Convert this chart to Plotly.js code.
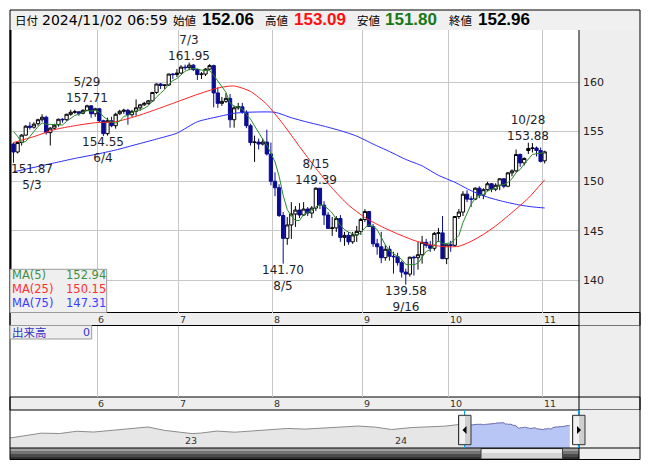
<!DOCTYPE html>
<html><head><meta charset="utf-8">
<script src="https://cdn.plot.ly/plotly-3.0.1.min.js"></script>
<style>html,body{margin:0;padding:0;background:#fff;}#chart{width:653px;height:470px;}</style>
</head><body><div id="chart"></div>
<script>
// ---- data (USD/JPY daily, 2024/05/03 - 2024/11/01) ----
const openP = [153.75,152.95,153.90,154.65,155.55,155.45,155.80,156.20,156.45,154.90,155.35,155.70,156.25,156.20,156.75,156.95,157.00,156.85,157.15,157.60,156.80,
157.30,156.10,154.80,156.10,155.60,156.80,157.05,157.15,156.70,157.05,157.40,157.70,157.85,158.10,158.95,159.80,159.65,159.70,160.80,160.75,
160.90,161.50,161.45,161.70,161.25,160.75,160.80,161.30,161.65,158.90,157.85,158.05,158.35,156.20,157.40,157.50,156.95,155.60,153.90,153.95,153.75,153.95,152.75,
150.00,149.35,146.55,144.25,145.60,146.70,147.10,146.60,147.20,146.80,147.30,149.30,147.60,146.60,145.25,145.30,146.25,144.35,144.55,143.90,144.60,144.95,
146.15,146.95,145.45,143.70,143.40,142.30,143.15,142.45,142.40,141.80,140.85,140.65,142.35,142.30,142.60,143.85,143.55,143.25,144.75,144.80,142.20,
143.60,143.55,146.45,146.90,148.70,148.20,148.20,149.30,148.60,149.15,149.75,149.20,149.60,150.25,149.50,150.85,151.05,152.70,151.85,153.10,153.30,153.35,153.10,
152.06];
const highP = [153.90,154.00,154.75,155.65,155.95,155.95,156.30,156.75,156.60,155.45,155.80,156.30,156.35,156.80,157.20,157.20,157.05,157.25,157.71,157.65,157.40,
157.40,156.20,156.40,156.50,156.90,157.20,157.30,157.30,157.20,158.25,157.80,158.00,158.20,159.00,159.85,159.90,159.75,160.85,160.90,161.30,
161.70,161.75,161.95,161.80,161.30,161.00,161.40,161.80,161.75,159.45,158.50,158.90,158.80,157.60,157.90,157.90,157.15,155.80,154.60,154.30,154.30,155.20,153.90,
150.90,149.70,146.90,146.40,147.90,147.50,147.80,147.90,147.40,147.50,149.39,149.30,148.00,146.90,146.40,146.50,146.60,144.90,144.90,144.90,145.50,146.30,
147.20,147.00,145.70,144.20,144.90,143.60,143.50,142.90,142.80,142.00,141.20,142.40,142.50,143.90,144.50,144.20,144.00,144.90,145.30,146.50,143.60,
144.00,146.50,147.20,149.00,149.10,148.50,149.40,149.50,149.30,149.95,149.80,149.80,150.30,150.30,150.90,151.20,153.20,152.80,152.40,153.88,153.85,153.50,153.40,
153.09];
const lowP = [151.87,152.80,153.60,154.60,155.20,155.30,155.60,156.00,154.70,153.60,155.20,155.50,155.90,156.10,156.60,156.80,156.60,156.75,157.10,156.40,156.50,
155.95,154.55,154.60,155.45,155.30,156.70,156.80,155.70,156.50,156.60,157.10,157.60,157.70,158.00,158.80,159.30,159.30,159.60,160.30,160.50,
160.80,161.20,161.20,161.10,160.20,160.30,160.60,161.20,157.45,157.40,157.60,157.90,155.40,155.40,157.20,156.80,155.35,153.60,151.95,153.20,153.60,152.60,149.60,
148.50,146.40,141.70,143.60,144.20,145.40,146.30,146.50,146.50,146.30,147.00,147.20,145.60,145.20,144.50,144.90,143.90,143.50,143.60,143.70,143.90,144.60,
145.90,145.40,143.40,142.60,141.75,142.00,142.00,140.70,141.50,140.30,139.58,140.40,140.50,141.10,141.70,143.30,142.90,143.00,143.90,142.20,141.65,
142.90,143.40,146.20,146.50,147.90,147.40,148.10,148.30,148.20,149.00,148.90,149.00,149.10,149.30,149.40,150.50,150.90,151.45,151.60,152.75,152.90,152.50,151.90,
151.80];
const closeP = [152.95,153.90,154.65,155.55,155.45,155.75,156.20,156.45,154.90,155.35,155.65,156.25,156.20,156.75,156.95,157.00,156.85,157.15,157.60,156.80,157.30,
156.10,154.80,156.10,155.60,156.75,157.05,157.15,156.70,157.05,157.40,157.70,157.85,158.10,158.95,159.80,159.65,159.70,160.80,160.75,160.90,
161.50,161.45,161.70,161.25,160.75,160.80,161.30,161.65,158.90,157.85,158.05,158.35,156.20,157.40,157.50,156.95,155.60,153.90,153.95,153.75,153.95,152.75,150.00,
149.35,146.55,144.25,145.60,146.70,147.10,146.60,147.20,146.80,147.30,149.30,147.60,146.60,145.25,145.30,146.25,144.35,144.55,143.90,144.60,144.95,146.15,
146.95,145.45,143.70,143.40,142.30,143.15,142.45,142.40,141.80,140.85,140.65,142.35,142.30,142.60,143.85,143.55,143.25,144.75,144.80,142.20,143.60,
143.55,146.45,146.90,148.70,148.20,148.20,149.30,148.60,149.15,149.75,149.20,149.60,150.25,149.50,150.85,151.05,152.70,151.85,152.30,153.30,153.35,153.10,152.00,
152.96];
const priorCloses = [156.30,157.80,155.00,153.00];          // last 4 closes before 5/3 (for MA5)
const ma25Idx = [0,5,10,15,20,25,30,35,40,45,50,54,58,62,66,70,74,78,82,86,90,94,98,102,106,109,112,115,118,122,126,130];
const ma25Val = [153.9,154.5,155.2,155.6,155.9,156.0,156.55,157.25,158.0,158.75,159.4,159.6,159.05,157.75,155.75,153.5,151.3,149.3,147.6,146.35,145.45,144.7,144.05,143.6,143.4,143.45,143.95,144.65,145.5,146.85,148.3,150.15];
const ma75Idx = [0,5,10,15,20,25,30,35,40,45,50,54,57,64,68,72,76,80,84,88,92,96,100,104,108,112,116,120,124,127,130];
const ma75Val = [150.95,151.4,151.85,152.3,152.7,153.15,153.7,154.25,154.85,156.0,156.5,156.85,156.95,156.95,156.4,155.95,155.55,155.1,154.55,153.75,153.0,152.2,151.55,150.6,149.9,149.05,148.4,147.95,147.6,147.42,147.31];
const navDates = ['2022-03-06','2022-03-31','2022-04-29','2022-05-31','2022-06-30','2022-07-29','2022-08-31','2022-09-30','2022-10-21','2022-10-31','2022-11-30','2022-12-30',
'2023-01-16','2023-01-31','2023-02-28','2023-03-31','2023-04-28','2023-05-31','2023-06-30','2023-07-31','2023-08-31','2023-09-29','2023-10-31','2023-11-30','2023-12-28',
'2024-01-31','2024-02-29','2024-03-29','2024-04-30'];
const navVals = [115.0,121.7,129.8,128.7,135.7,133.2,138.9,144.7,147.6,148.7,138.1,131.1,128.5,130.1,136.2,132.8,136.3,139.3,144.3,142.3,145.5,149.4,151.7,148.2,141.0,147.0,150.0,151.3,157.8];
const peakIdx = [18,43,74,126];
const troughIdx = [0,22,66,96];
const headerStamp = '2024/11/02 06:59';
const maNames = ['MA(5)','MA(25)','MA(75)'];
const yTicks = [140,145,150,155,160];
const navYears = ['2023-01-01','2024-01-01'];
const navYearLabels = ['23','24'];

// ---- derived ----
const dates = [];
for (let d = Date.UTC(2024,4,3); d <= Date.UTC(2024,10,1); d += 86400000) {
  const dt = new Date(d); const wd = dt.getUTCDay();
  if (wd !== 0 && wd !== 6) dates.push(dt);
}
const idx = closeP.map((_, i) => i);
const dLabel = i => (dates[i].getUTCMonth()+1) + '/' + dates[i].getUTCDate();
const iso = i => dates[i].toISOString().slice(0,10);
const monthTicks = [], monthLabels = [];
for (let i = 1; i < dates.length; i++) if (dates[i].getUTCMonth() !== dates[i-1].getUTCMonth()) { monthTicks.push(i - 0.5); monthLabels.push(String(dates[i].getUTCMonth()+1)); }
const allC = priorCloses.concat(closeP);
const ma5 = closeP.map((_, i) => { let s = 0; for (let k = 0; k < 5; k++) s += allC[i + 4 - k]; return s / 5; });

// ---- layout helpers ----
const W = 653, H = 470;
const px = x => x / W, py = y => 1 - y / H;
const XL = 10, XR = 579, MT = 30, MB = 312.5;
const rect = (x0, y0, x1, y1, fill, line, lw, layer) => ({type:'rect', xref:'paper', yref:'paper', x0:px(x0), x1:px(x1), y0:py(y0), y1:py(y1), fillcolor:fill||'rgba(0,0,0,0)', line:{color:line||'rgba(0,0,0,0)', width:line?(lw||1):0}, layer:layer||'below'});
const vline = (x, y0, y1, color, w, layer) => ({type:'line', xref:'paper', yref:'paper', x0:px(x), x1:px(x), y0:py(y0), y1:py(y1), line:{color, width:w||1}, layer:layer||'above'});
const path = (pts, fill) => ({type:'path', xref:'paper', yref:'paper', path:'M' + pts.map(p => px(p[0]) + ',' + py(p[1])).join('L') + 'Z', fillcolor:fill, line:{width:0}, layer:'above'});
const ann = (text, x, y, o) => Object.assign({text, x:px(x), y:py(y), xref:'paper', yref:'paper', showarrow:false, xanchor:'left', yanchor:'middle', borderpad:0, borderwidth:0, font:{family:'DejaVu Sans, sans-serif', size:12, color:'#000'}}, o||{});
const CJK = 'Noto Sans CJK JP, sans-serif';

const shapes = [
  rect(XL, 10, 640, MT, '#f0f0f0'),
  rect(XR, MT, 640, MB, '#eeeeee'),
  rect(XL, MB, 640, 325.5, '#eeeeee', '#000'),
  rect(XR, 325.5, 640, 397, '#eeeeee'),
  rect(XL, 397, 640, 410, '#eeeeee', '#000'),
  rect(XR, 410, 640, 459.5, '#eeeeee'),
  rect(XL, 448, XR, 451, '#a0a0a0', null, 0, 'above'),
  rect(XL, 451, XR, 454, '#747474', null, 0, 'above'),
  rect(XL, 454, XR, 457, '#4c4c4c', null, 0, 'above'),
  rect(XL, 457, XR, 459.5, '#303030', null, 0, 'above'),
  rect(481, 448.5, 562.5, 459, '#d4d4d4', '#444', 1, 'above'),
  rect(482, 449.5, 561.5, 453, '#eeeeee', null, 0, 'above'),
  vline(XR, MT, 459.5, '#000', 1),
  vline(XL + 0.5, MT, MB, '#000', 2),
  rect(XL, 10, 640, 459.5, null, '#000', 1, 'above'),
  {type:'line', xref:'paper', yref:'paper', x0:px(XL), x1:px(640), y0:py(448), y1:py(448), line:{color:'#000', width:1}, layer:'above'},
  // MA legend box
  rect(XL, 269.3, 106.7, MB, '#efefef', '#9a9a9a', 1, 'above'),
  // volume label box
  rect(XL, 325.5, 91.7, 339, '#eeeeee', '#9a9a9a', 1, 'above'),
  // navigator window
  vline(464.6, 410, 448, '#1a9fdc', 1.2),
  vline(578.5, 410, 448, '#1a9fdc', 1.2),
  rect(458.5, 415.3, 471, 444.7, '#cfcfcf', '#333', 1, 'above'),
  rect(460, 416.3, 465, 443.7, '#f2f2f2', null, 0, 'above'),
  rect(572.5, 415.3, 585, 444.7, '#cfcfcf', '#333', 1, 'above'),
  rect(574, 416.3, 579, 443.7, '#f2f2f2', null, 0, 'above'),
  path([[462.5,430],[466.5,426],[466.5,434]], '#000'),
  path([[581,430],[577,426],[577,434]], '#000')
];

const annotations = [];
// header
annotations.push(ann('日付', 14.6, 19.5, {font:{family:CJK, size:11.5, color:'#000'}}));
annotations.push(ann(headerStamp, 41.7, 19.5, {font:{family:'DejaVu Sans, sans-serif', size:14, color:'#000'}}));
const last = closeP.length - 1;
const hdr = [['始値', openP[last], '#000', 173, 202], ['高値', highP[last], '#ff1010', 265, 294], ['安値', lowP[last], '#187818', 357, 385], ['終値', closeP[last], '#000', 449, 478]];
hdr.forEach(h => {
  annotations.push(ann(h[0], h[3], 19.5, {font:{family:CJK, size:11.5, color:'#000'}}));
  annotations.push(ann('<b>' + h[1].toFixed(2) + '</b>', h[4], 19.5, {font:{family:'Liberation Sans, Arial, sans-serif', size:17, color:h[2]}}));
});
// month labels in both strips
monthTicks.forEach((t, k) => {
  [['x', 319], ['x2', 403.5]].forEach(s => annotations.push({text:monthLabels[k], x:t, xref:s[0], y:py(s[1]), yref:'paper', xanchor:'left', yanchor:'middle', xshift:1, showarrow:false, borderpad:0, borderwidth:0, font:{family:'DejaVu Sans, sans-serif', size:9.5, color:'#333'}}));
});
// high / low labels (one two-line text each)
const lab = (i, val, isHigh) => {
  const xs = i < 3 ? 18 : 0;
  annotations.push({x:i, xref:'x', yref:'y', y:val, showarrow:false, xanchor:'center', align:'center', xshift:xs, borderpad:0, borderwidth:0,
    yanchor:isHigh ? 'bottom' : 'top', yshift:isHigh ? 0 : 1,
    text:isHigh ? dLabel(i) + '<br>' + val.toFixed(2) : val.toFixed(2) + '<br>' + dLabel(i),
    font:{family:'DejaVu Sans, sans-serif', size:12, color:'#1e1e2a'}});
};
peakIdx.forEach(i => lab(i, highP[i], true));
troughIdx.forEach(i => lab(i, lowP[i], false));
// MA legend
const maCols = ['#3f8f3f', '#ff3030', '#3c3cff'];
const maLast = [ma5[last], ma25Val[ma25Val.length-1], ma75Val[ma75Val.length-1]];
[275.4, 289.3, 303.3].forEach((yy, k) => {
  annotations.push(ann(maNames[k], 11.7, yy, {font:{family:'DejaVu Sans, sans-serif', size:11.5, color:maCols[k]}}));
  annotations.push(ann(maLast[k].toFixed(2), 106, yy, {xanchor:'right', font:{family:'DejaVu Sans, sans-serif', size:11.5, color:maCols[k]}}));
});
// volume label
annotations.push(ann('出来高', 11.7, 332.3, {font:{family:CJK, size:11.5, color:'#3232c8'}}));
annotations.push(ann('0', 90, 332.3, {xanchor:'right', font:{family:'DejaVu Sans, sans-serif', size:11, color:'#3232c8'}}));
// navigator year labels
navYears.forEach((d, k) => annotations.push({text:navYearLabels[k], x:d, xref:'x3', y:py(440), yref:'paper', xanchor:'left', yanchor:'middle', xshift:1, showarrow:false, borderpad:0, borderwidth:0, font:{family:'DejaVu Sans, sans-serif', size:9.5, color:'#333'}}));

const xr = [-0.857, 138.4];
const layout = {
  width:W, height:H, margin:{l:0, r:0, t:0, b:0}, paper_bgcolor:'#ffffff', plot_bgcolor:'#ffffff',
  showlegend:false, hovermode:false, dragmode:false, boxgap:0.2, boxgroupgap:0,
  font:{family:'DejaVu Sans, sans-serif', size:11, color:'#222'},
  xaxis:{domain:[px(XL), px(XR)], anchor:'y', range:xr, tickvals:monthTicks, showticklabels:false, ticks:'', showgrid:true, gridcolor:'#c8c8c8', gridwidth:1, zeroline:false, showline:false, rangeslider:{visible:false}, fixedrange:true},
  yaxis:{domain:[py(MB), py(MT)], anchor:'x', range:[136.78, 165.24], side:'right', tickvals:yTicks, ticks:'', showgrid:true, gridcolor:'#c8c8c8', gridwidth:1, zeroline:false, showline:false, tickfont:{family:'DejaVu Sans, sans-serif', size:11, color:'#222'}, ticklabelstandoff:3, fixedrange:true},
  xaxis2:{domain:[px(XL), px(XR)], anchor:'y2', range:xr, tickvals:monthTicks, showticklabels:false, ticks:'', showgrid:true, gridcolor:'#c8c8c8', zeroline:false, showline:false, fixedrange:true},
  yaxis2:{domain:[py(397), py(325.5)], anchor:'x2', range:[0,1], showgrid:false, showticklabels:false, zeroline:false, showline:false, ticks:'', fixedrange:true},
  xaxis3:{domain:[px(XL), px(XR)], anchor:'y3', type:'date', range:['2022-03-06','2024-11-17'], showgrid:false, showticklabels:false, zeroline:false, showline:false, ticks:'', fixedrange:true},
  yaxis3:{domain:[py(448), py(410)], anchor:'x3', range:[84.3, 200.9], showgrid:false, showticklabels:false, zeroline:false, showline:false, ticks:'', fixedrange:true},
  shapes, annotations
};

const traces = [
  {type:'candlestick', x:idx, open:openP, high:highP, low:lowP, close:closeP, xaxis:'x', yaxis:'y', whiskerwidth:0, hoverinfo:'skip',
   increasing:{line:{color:'#000000', width:1}, fillcolor:'#ffffff'},
   decreasing:{line:{color:'#0c0c92', width:1}, fillcolor:'#0c0c92'}},
  {type:'scatter', mode:'lines', x:ma75Idx, y:ma75Val, xaxis:'x', yaxis:'y', line:{color:'#2a2aff', width:1, shape:'spline', smoothing:0.6}, hoverinfo:'skip'},
  {type:'scatter', mode:'lines', x:ma25Idx, y:ma25Val, xaxis:'x', yaxis:'y', line:{color:'#ff2020', width:1, shape:'spline', smoothing:0.6}, hoverinfo:'skip'},
  {type:'scatter', mode:'lines', x:idx, y:ma5, xaxis:'x', yaxis:'y', line:{color:'#2a8a2a', width:1}, hoverinfo:'skip'},
  {type:'scatter', mode:'lines', x:[], y:[], xaxis:'x2', yaxis:'y2', hoverinfo:'skip'},
  {type:'scatter', mode:'lines', x:navDates.concat([iso(0)]), y:navVals.concat([closeP[0]]), xaxis:'x3', yaxis:'y3', fill:'tozeroy', fillcolor:'#e6e6e6', line:{color:'#8c8c8c', width:1}, hoverinfo:'skip'},
  {type:'scatter', mode:'lines', x:idx.map(iso), y:closeP, xaxis:'x3', yaxis:'y3', fill:'tozeroy', fillcolor:'#b8c6f6', line:{color:'#6a6aae', width:1}, hoverinfo:'skip'}
];

Plotly.newPlot('chart', traces, layout, {staticPlot:true, displayModeBar:false});
</script></body></html>
